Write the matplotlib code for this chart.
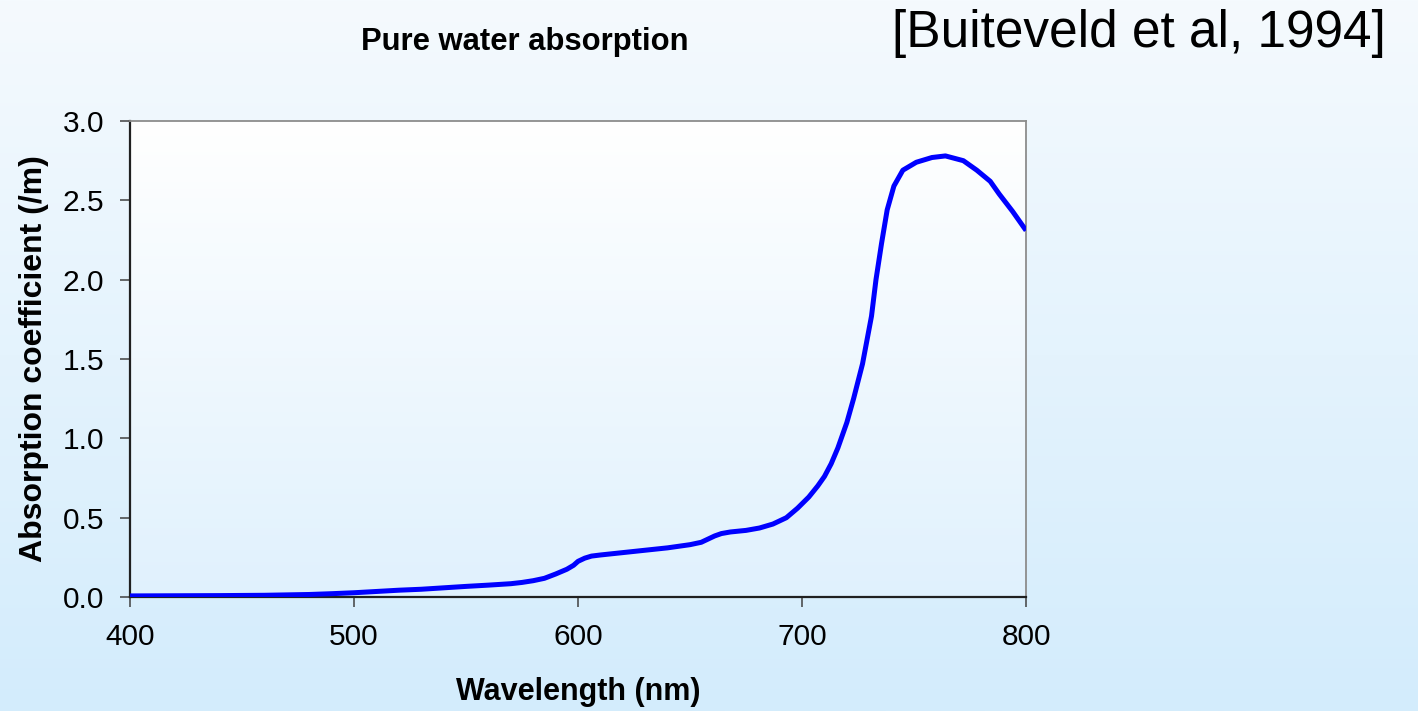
import numpy as np
import matplotlib
matplotlib.use("Agg")
import matplotlib.pyplot as plt
from matplotlib.colors import LinearSegmentedColormap

plt.rcParams['font.family'] = ['Liberation Sans', 'DejaVu Sans']

# Pure water absorption spectrum (Buiteveld et al, 1994)
wavelength = [400, 420, 440, 460, 480, 490, 500, 510, 520, 530, 540, 550,
              560, 570, 575, 580, 585, 590, 595, 598, 600, 603, 606, 610, 620,
              630, 640, 650, 655, 658, 661, 664, 668, 675, 681, 687, 693,
              698, 703, 707, 710, 713, 716, 720, 723, 727, 731, 733, 735.5,
              738, 741, 745, 751, 758, 764, 772, 778, 784, 788, 794, 800]
absorption = [0.007, 0.008, 0.009, 0.011, 0.016, 0.021, 0.027, 0.035, 0.043,
              0.049, 0.058, 0.067, 0.075, 0.084, 0.092, 0.103, 0.118, 0.145,
              0.175, 0.200, 0.225, 0.245, 0.258, 0.265, 0.280, 0.295, 0.310,
              0.330, 0.345, 0.365, 0.385, 0.400, 0.410, 0.420, 0.435, 0.460,
              0.500, 0.560, 0.630, 0.700, 0.760, 0.840, 0.940, 1.100, 1.250,
              1.470, 1.770, 2.000, 2.230, 2.440, 2.590, 2.690, 2.740, 2.770,
              2.780, 2.750, 2.690, 2.620, 2.540, 2.430, 2.310]

x_ticks = [400, 500, 600, 700, 800]
y_ticks = [0.0, 0.5, 1.0, 1.5, 2.0, 2.5, 3.0]

fig = plt.figure(figsize=(14.18, 7.11), dpi=100)

# slide-style background: pale at the top, light blue at the bottom
bg = fig.add_axes([0, 0, 1, 1], zorder=-10)
bg_cmap = LinearSegmentedColormap.from_list('bg', ['#f5fafe', '#d3ecfc'])
bg.imshow(np.linspace(0, 1, 256).reshape(-1, 1), aspect='auto', cmap=bg_cmap,
          extent=[0, 1, 0, 1], origin='upper')
bg.axis('off')

ax = fig.add_axes([0.0917, 0.1603, 0.6319, 0.6695])
ax.set_facecolor('none')

# plot area gradient, white to light blue
pa_cmap = LinearSegmentedColormap.from_list('pa', ['#ffffff', '#e0f1fd'])
ax.imshow(np.linspace(0, 1, 256).reshape(-1, 1), aspect='auto', cmap=pa_cmap,
          extent=[0, 1, 0, 1], origin='upper', transform=ax.transAxes, zorder=0)

ax.plot(wavelength, absorption, color='#0000ff', lw=3.6, zorder=3,
        solid_capstyle='butt', solid_joinstyle='round')

ax.set_xlim(400, 800)
ax.set_ylim(0, 3.0)
ax.set_xticks(x_ticks)
ax.set_yticks(y_ticks)
ax.set_yticklabels([f"{v:.1f}" for v in y_ticks])
ax.tick_params(axis='both', direction='out', length=7.5, width=1.1,
               color='#404040', labelsize=21.5, pad=11)

for side in ['left', 'bottom']:
    ax.spines[side].set_color('#202020')
    ax.spines[side].set_linewidth(1.6)
for side in ['top', 'right']:
    ax.spines[side].set_color('#8c8c8c')
    ax.spines[side].set_linewidth(1.3)

ax.set_xlabel("Wavelength (nm)", fontsize=22, fontweight='bold')
ax.set_ylabel("Absorption coefficient (/m)", fontsize=23, fontweight='bold')
ax.xaxis.set_label_coords(0.5, -0.168)
ax.yaxis.set_label_coords(-0.0905, 0.5)

fig.text(0.370, 0.9297, "Pure water absorption", fontsize=22.3,
         fontweight='bold', ha='center', va='baseline')
fig.text(0.629, 0.934, "[Buiteveld et al, 1994]", fontsize=37,
         ha='left', va='baseline')

fig.savefig("out.png", dpi=100)
